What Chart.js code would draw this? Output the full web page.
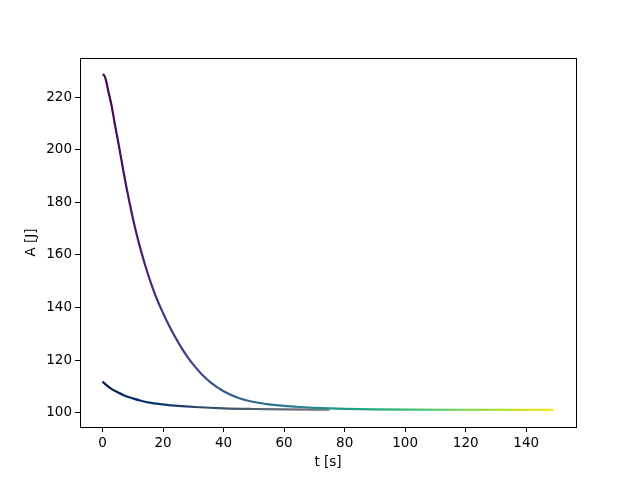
<!DOCTYPE html>
<html>
<head>
<meta charset="utf-8">
<script src="https://cdn.jsdelivr.net/npm/chart.js@4.4.0/dist/chart.umd.min.js"></script>
<style>
  html, body { margin: 0; padding: 0; background: #fff; }
  #wrap { width: 640px; height: 480px; position: relative; }
</style>
</head>
<body>
<div id="wrap"><canvas id="chart"></canvas></div>
<script>
// time [s] and energy [J]
const t1 = [0, 0.5, 1, 2, 3, 4, 5, 6, 7, 8, 9, 10, 11, 12, 13, 14, 16, 18, 20, 22, 24, 26, 28, 30, 33, 36, 40, 45, 50, 55, 60, 65, 70, 80, 90, 100, 120, 149];
const a1 = [228.7, 228.4, 227.0, 221.8, 216.7, 210.2, 204.0, 197.7, 191.2, 185.1, 179.5, 174.1, 169.1, 164.6, 160.4, 156.4, 149.3, 143.1, 137.9, 133.1, 128.8, 124.9, 121.4, 118.3, 114.4, 111.3, 108.2, 105.6, 104.1, 103.2, 102.6, 102.2, 101.9, 101.5, 101.3, 101.2, 101.15, 101.1];

const t2 = [0, 1, 2.8, 5, 7.2, 10, 12.7, 16, 20.5, 25, 30.4, 40, 50, 60, 75];
const a2 = [111.9, 110.8, 109.2, 107.8, 106.6, 105.5, 104.6, 103.8, 103.1, 102.6, 102.2, 101.7, 101.45, 101.3, 101.2];

const xTicks = [0, 20, 40, 60, 80, 100, 120, 140];
const yTicks = [100, 120, 140, 160, 180, 200, 220];

const tMax = 149;

const viridis = ['#440154', '#482475', '#414487', '#355f8d', '#2a788e', '#21918c', '#22a884', '#44bf70', '#7ad151', '#bddf26', '#fde725'];
const cividis = ['#00204c', '#00336f', '#2a446c', '#48566b', '#636972', '#7c7b78', '#958f78', '#b0a46f', '#cdb961', '#ebcf4b', '#ffe945'];

function timeGradient(stops) {
  return function (context) {
    const chart = context.chart;
    if (!chart.chartArea) return stops[0];
    const x = chart.scales.x;
    const g = chart.ctx.createLinearGradient(x.getPixelForValue(0), 0, x.getPixelForValue(tMax), 0);
    stops.forEach((c, i) => g.addColorStop(i / (stops.length - 1), c));
    return g;
  };
}

const toPoints = (ts, as) => ts.map((t, i) => ({ x: t, y: as[i] }));

const frame = {
  id: 'frame',
  afterDraw(chart) {
    const { ctx, chartArea: a } = chart;
    ctx.save();
    ctx.strokeStyle = '#000';
    ctx.lineWidth = 1;
    ctx.strokeRect(Math.round(a.left) + 0.5, Math.round(a.top) + 0.5, Math.round(a.right - a.left), Math.round(a.bottom - a.top));
    ctx.restore();
  }
};

const font = { family: 'DejaVu Sans', size: 13.5 };

new Chart(document.getElementById('chart'), {
  type: 'scatter',
  data: {
    datasets: [
      {
        data: toPoints(t1, a1),
        showLine: true,
        borderColor: timeGradient(viridis),
        borderWidth: 2.2,
        pointRadius: 0,
        cubicInterpolationMode: 'monotone'
      },
      {
        data: toPoints(t2, a2),
        showLine: true,
        borderColor: timeGradient(cividis),
        borderWidth: 2.2,
        pointRadius: 0,
        cubicInterpolationMode: 'monotone'
      }
    ]
  },
  options: {
    responsive: true,
    maintainAspectRatio: false,
    animation: false,
    events: [],
    layout: { padding: { top: 58, right: 64, left: 23, bottom: 9 } },
    plugins: { legend: { display: false }, tooltip: { enabled: false } },
    scales: {
      x: {
        type: 'linear',
        min: -7.45,
        max: 156.45,
        afterFit: s => { s.height = 44; },
        afterBuildTicks: s => { s.ticks = xTicks.map(v => ({ value: v })); },
        grid: { drawOnChartArea: false, drawTicks: true, tickLength: 5, color: '#000' },
        border: { display: false },
        ticks: { color: '#000', font, padding: 3, maxRotation: 0 },
        title: { display: true, text: 't [s]', color: '#000', font, padding: { top: 2, bottom: 0 } }
      },
      y: {
        type: 'linear',
        min: 94.6,
        max: 234.9,
        afterFit: s => { s.width = 57; },
        afterBuildTicks: s => { s.ticks = yTicks.map(v => ({ value: v })); },
        grid: { drawOnChartArea: false, drawTicks: true, tickLength: 5, color: '#000' },
        border: { display: false },
        ticks: { color: '#000', font, padding: 3 },
        title: { display: true, text: 'A [J]', color: '#000', font, padding: { top: 0, bottom: 4 } }
      }
    }
  },
  plugins: [frame]
});
</script>
</body>
</html>
